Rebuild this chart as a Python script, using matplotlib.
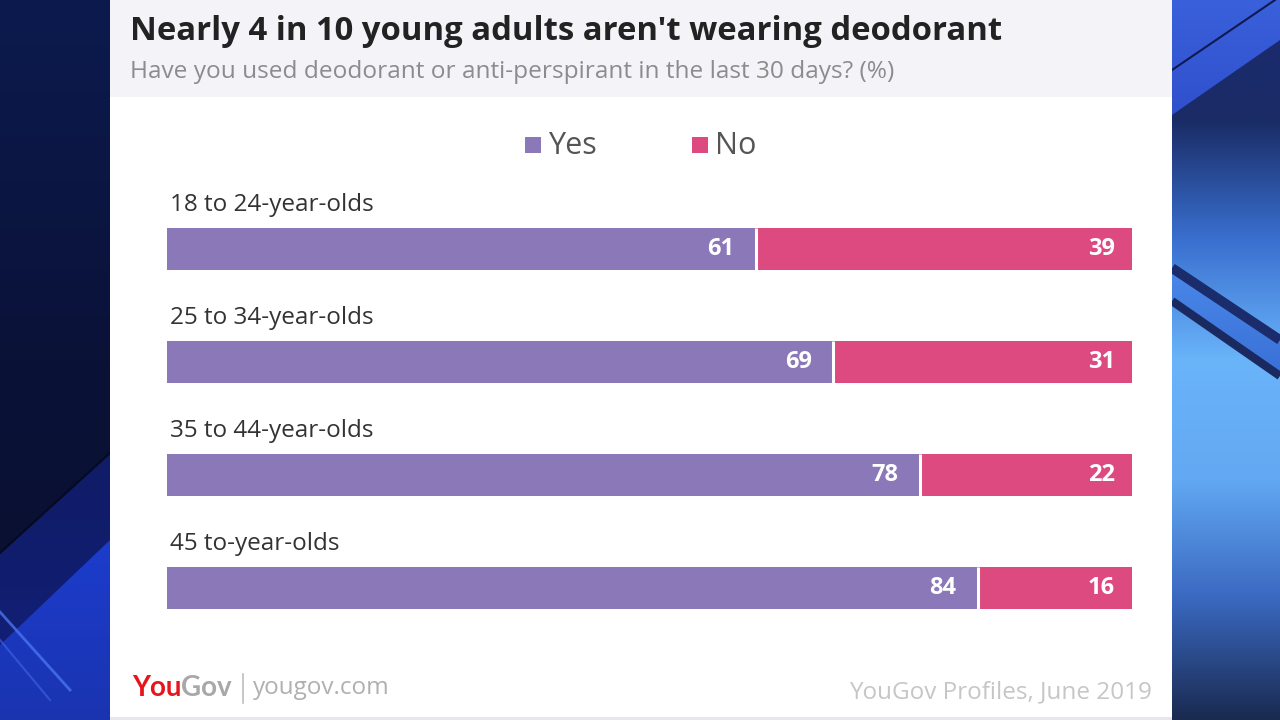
import numpy as np
import matplotlib.pyplot as plt
from matplotlib.patches import Polygon, Rectangle
from matplotlib.colors import LinearSegmentedColormap

# data
groups = ["18 to 24-year-olds", "25 to 34-year-olds", "35 to 44-year-olds", "45 to-year-olds"]
yes = [61, 69, 78, 84]
no = [39, 31, 22, 16]

PURPLE = "#8a78b8"
PINK = "#dd4a80"

plt.rcParams['font.family'] = ['Open Sans', 'DejaVu Sans']

fig = plt.figure(figsize=(12.8, 7.2), dpi=100)
bg = fig.add_axes([0, 0, 1, 1])
bg.axis('off')


def grad(ax, poly, colors, x0, x1, y0, y1, z=0):
    # vertical gradient clipped to a polygon (pixel coords)
    cmap = LinearSegmentedColormap.from_list('g', colors)
    arr = np.linspace(0, 1, 256).reshape(-1, 1)
    im = ax.imshow(arr, cmap=cmap, extent=(x0, x1, y1, y0), aspect='auto', zorder=z,
                   interpolation='bilinear')
    p = Polygon(poly, closed=True, facecolor='none', edgecolor='none', zorder=z)
    ax.add_patch(p)
    im.set_clip_path(p)


# left background
grad(bg, [(0, 0), (110, 0), (110, 720), (0, 720)], ["#0c1a4e", "#0a1238", "#090f2c"], 0, 110, 0, 720)
grad(bg, [(0, 553), (110, 453), (110, 720), (0, 720)], ["#101c66", "#12207a"], 0, 110, 453, 720, z=1)
grad(bg, [(110, 540), (0, 645), (0, 720), (110, 720)], ["#1c3ccc", "#1a34b0"], 0, 110, 540, 720, z=2)
bg.plot([0, 110], [553, 453], color="#060a20", lw=1.5, zorder=3)
bg.plot([0, 70], [612, 690], color="#4a74ee", lw=2, zorder=3, alpha=0.8)
bg.plot([0, 50], [640, 700], color="#3a60e0", lw=1.5, zorder=3, alpha=0.7)

# right background
grad(bg, [(1172, 0), (1280, 0), (1280, 720), (1172, 720)],
     ["#1a2a70", "#1a2c66", "#3a70d0", "#6ab4fa", "#62a8f2", "#3a68c0", "#1a2a50"],
     1172, 1280, 0, 720)
grad(bg, [(1172, 0), (1280, 0), (1280, 40), (1172, 115)], ["#3a60dc", "#3050cc"], 1172, 1280, 0, 115, z=1)
bg.plot([1172, 1275], [70, 0], color="#0e1a50", lw=1.5, zorder=3)
grad(bg, [(1172, 268), (1280, 340), (1280, 375), (1172, 300)], ["#4a88e8", "#3a70d8"], 1172, 1280, 268, 375, z=1)
bg.plot([1172, 1280], [268, 340], color="#1a2c6c", lw=7, zorder=3, solid_capstyle='butt')
bg.plot([1172, 1280], [301, 376], color="#1a2a60", lw=6, zorder=3, solid_capstyle='butt')

# white panel and title band
bg.add_patch(Rectangle((110, 0), 1062, 717, facecolor="white", edgecolor="none", zorder=5))
bg.add_patch(Rectangle((110, 0), 1062, 97, facecolor="#f3f3f8", edgecolor="none", zorder=6))
bg.add_patch(Rectangle((110, 717), 1062, 3, facecolor="#e6e6ec", edgecolor="none", zorder=6))

bg.set_xlim(0, 1280)
bg.set_ylim(720, 0)

# titles
bg.text(130, 32, "Nearly 4 in 10 young adults aren't wearing deodorant", fontsize=23.7,
        fontweight='bold', color="#222222", va='center', ha='left', zorder=7)
bg.text(130, 72, "Have you used deodorant or anti-perspirant in the last 30 days? (%)", fontsize=17.6,
        color="#8c8c8c", va='center', ha='left', zorder=7)

# legend
bg.add_patch(Rectangle((525, 137), 16, 16, facecolor=PURPLE, edgecolor="none", zorder=7))
bg.text(548, 146, "Yes", fontsize=22, color="#555555", va='center', ha='left', zorder=7)
bg.add_patch(Rectangle((692, 137), 16, 16, facecolor=PINK, edgecolor="none", zorder=7))
bg.text(715, 146, "No", fontsize=22, color="#555555", va='center', ha='left', zorder=7)

# footer
t1 = bg.text(132, 696, "You", fontsize=20, fontweight='bold', color="#e8141c", va='baseline',
             ha='left', zorder=7, family=['Lato'])
bg.annotate("Gov", xy=(1, 0), xycoords=t1, fontsize=20, fontweight='bold', color="#a8a8a8",
            va='bottom', ha='left', zorder=7, family=['Lato'])
bg.plot([243, 243], [674, 703], color="#bdbdbd", lw=1.2, zorder=7)
bg.text(253, 694, "yougov.com", fontsize=17.5, color="#b0b0b0", va='baseline', ha='left', zorder=7)
bg.text(1152, 698, "YouGov Profiles, June 2019", fontsize=17.5, color="#c6c6c6", va='baseline',
        ha='right', zorder=7)

# chart
ax = fig.add_axes([167 / 1280, 1 - 644.5 / 720, 965 / 1280, 452 / 720])
ax.set_zorder(10)
ax.patch.set_alpha(0)
y = np.arange(len(groups))
h = 42 / 113
ax.barh(y, yes, height=h, color=PURPLE)
ax.barh(y, no, left=yes, height=h, color=PINK)
ax.vlines(yes, y - h / 2, y + h / 2, color='white', lw=2.2)
ax.set_xlim(0, 100)
ax.set_ylim(3.5, -0.5)
ax.axis('off')

for i, g in enumerate(groups):
    ax.text(0.3, i - 0.39, g, fontsize=17.5, color="#333333", va='center', ha='left')
    ax.annotate(str(yes[i]), xy=(yes[i], i), xytext=(-21, 0), textcoords='offset pixels',
                fontsize=17, fontweight='bold', color='white', va='center', ha='right')
    ax.annotate(str(no[i]), xy=(100, i), xytext=(-17, 0), textcoords='offset pixels',
                fontsize=17, fontweight='bold', color='white', va='center', ha='right')

fig.savefig("out.png", dpi=100)
